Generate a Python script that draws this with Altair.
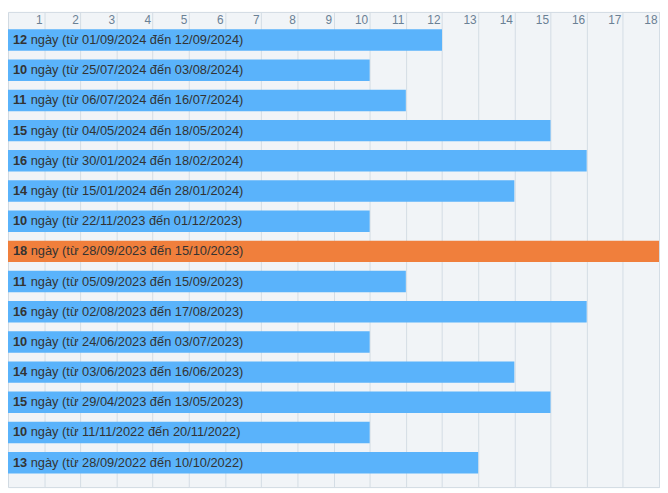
import altair as alt
import pandas as pd

days = [12, 10, 11, 15, 16, 14, 10, 18, 11, 16, 10, 14, 15, 10, 13]
starts = ["01/09/2024", "25/07/2024", "06/07/2024", "04/05/2024", "30/01/2024",
          "15/01/2024", "22/11/2023", "28/09/2023", "05/09/2023", "02/08/2023",
          "24/06/2023", "03/06/2023", "29/04/2023", "11/11/2022", "28/09/2022"]
ends = ["12/09/2024", "03/08/2024", "16/07/2024", "18/05/2024", "18/02/2024",
        "28/01/2024", "01/12/2023", "15/10/2023", "15/09/2023", "17/08/2023",
        "03/07/2023", "16/06/2023", "13/05/2023", "20/11/2022", "10/10/2022"]
tick_values = list(range(1, 19))

BLUE = "#5AB3FB"
ORANGE = "#F07F3C"
TEXT = "#333333"

df = pd.DataFrame({"row": list(range(len(days))), "days": days,
                   "start": starts, "end": ends})
df["rest"] = "ngày (từ " + df["start"] + " đến " + df["end"] + ")"
df["hl"] = df["days"] == df["days"].max()

y = alt.Y("row:O", axis=None,
          scale=alt.Scale(paddingInner=0.29, paddingOuter=0.516, align=0.56))
base = alt.Chart(df).encode(y=y)

bars = base.mark_bar(cornerRadius=0).encode(
    x=alt.X("days:Q",
            scale=alt.Scale(domain=[0, 18], nice=False, zero=True),
            axis=alt.Axis(orient="top", values=tick_values, tickCount=18,
                          format="d",
                          grid=True, gridColor="#D3DCE5", gridWidth=1,
                          ticks=False, tickSize=0, domain=False,
                          labelOverlap=False,
                          labelPadding=-8, labelBaseline="middle",
                          labelAlign="right", labelOffset=-2,
                          labelColor="#6A8094", labelFontSize=12,
                          labelFont="Liberation Sans", title=None)),
    color=alt.condition("datum.hl", alt.value(ORANGE), alt.value(BLUE)),
)

num = base.mark_text(align="left", baseline="middle", fontWeight="bold",
                     fontSize=13, font="Liberation Sans", color=TEXT,
                     dx=5).encode(x=alt.datum(0), text="days:Q")
rest = base.mark_text(align="left", baseline="middle", fontSize=13,
                      font="Liberation Sans", color=TEXT,
                      dx=23).encode(x=alt.datum(0), text="rest:N")

chart = alt.layer(bars, num, rest).properties(
    width=660, height=485,
    autosize=alt.AutoSizeParams(type="fit", contains="padding"),
    padding={"left": 0, "top": 1, "right": 1, "bottom": 3},
    background="white",
).configure_view(fill="#F1F4F7", stroke="#D0D9E2")

chart.save("out.html", embed_options={"renderer": "svg", "actions": False})
